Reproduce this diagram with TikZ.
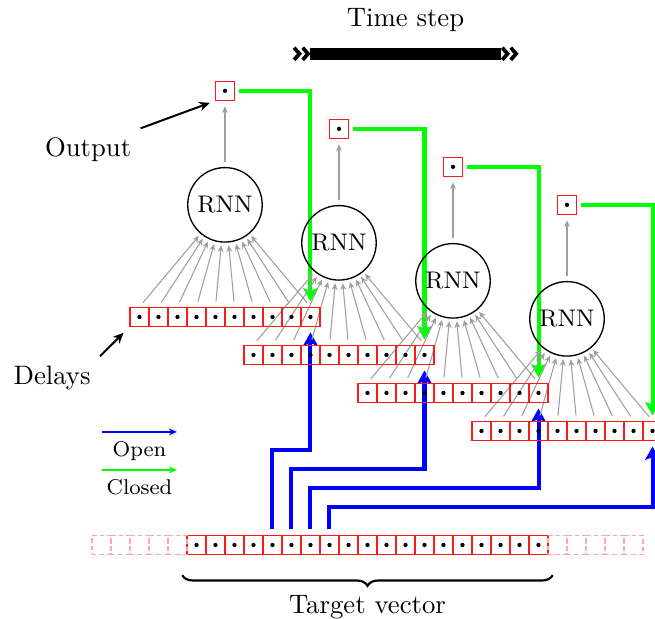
\documentclass[tikz,border=0pt]{standalone}
\usetikzlibrary{arrows.meta,decorations.pathreplacing,backgrounds}

\tikzset{
  cell/.style={draw=red!90, line width=0.5pt, minimum size=0.25cm, inner sep=0pt,
    path picture={\fill[black] (path picture bounding box.center) circle (0.8pt);}},
  ghostcell/.style={draw=red!35, line width=0.5pt, dash pattern=on 1.6pt off 1.2pt,
    minimum size=0.25cm, inner sep=0pt},
  rnn/.style={circle, draw, line width=0.5pt, minimum size=0.98cm, inner sep=0pt, font=\small},
  feed/.style={gray!75, line width=0.4pt, -{Stealth[length=2.5pt,width=2.2pt]},
    shorten <=2pt, shorten >=1pt},
  openline/.style={blue, line width=1.5pt, -{Stealth[length=5pt,width=5.5pt,inset=1pt]},
    shorten <=2pt, shorten >=2pt},
  closedline/.style={green, line width=1.5pt, -{Stealth[length=5pt,width=5.5pt,inset=1pt]},
    shorten <=1.5pt, shorten >=2pt},
  pointer/.style={line width=0.75pt, -{Stealth[length=4pt,width=3.5pt]}},
  chevron/.style={line width=1.4pt, miter limit=3},
}

\begin{document}
\begin{tikzpicture}[x=0.25cm, y=0.25cm, line join=miter]
\useasboundingbox (-9.84,-3.89) rectangle (24.63,28.68);

% target vector with padding
\foreach \i in {1,...,19}
  \node[cell] (tv\i) at (\i-0.5,0) {};
\foreach \i in {1,...,5} {
  \node[ghostcell] (padl\i) at (0.5-\i,0) {};
  \node[ghostcell] (padr\i) at (18.5+\i,0) {};
}
\draw[decorate, decoration={brace, mirror, amplitude=4pt}, line width=0.8pt]
  ([xshift=-1.5pt,yshift=-7.5pt]tv1.south west) -- ([xshift=1.5pt,yshift=-7.5pt]tv19.south east)
  node[midway, below=4pt] (tvlbl) {Target vector};

% one block per time step
\foreach \k in {0,...,3} {
  \pgfmathsetmacro\xo{6*\k-3}
  \pgfmathsetmacro\yo{12-2*\k}
  \foreach \i in {1,...,10}
    \node[cell] (d\k-\i) at (\xo+\i-0.5,\yo) {};
  \node[rnn] (rnn\k) at (\xo+5,\yo+5.9) {RNN};
  \node[cell] (out\k) at (\xo+5,\yo+11.9) {};
}

\begin{pgfonlayer}{background}
\foreach \k/\t in {0/5,1/6,2/7,3/8} {
  \foreach \i in {1,...,10}
    \draw[feed] (d\k-\i.north) -- (rnn\k);
  \draw[feed, shorten >=2pt] (rnn\k) -- (out\k);
  \draw[closedline] (out\k.east) -| (d\k-10.north);
  \coordinate (turn\k) at (6.5+6*\k,5-\k);
  \draw[openline] (tv\t.north) |- (turn\k) -- (d\k-10.south);
}
\end{pgfonlayer}

% labels
\node (outlbl) at (-5.2,20.8) {Output};
\draw[pointer, shorten >=2pt] (outlbl.north east) -- (out0.south west);
\node (dlylbl) at (-7.1,8.8) {Delays};
\draw[pointer, shorten >=3pt] (dlylbl.north east) -- (d0-1.south west);

% legend
\coordinate (lga) at (-4.47,5.95);
\coordinate (lgb) at (-0.53,5.95);
\coordinate (lgc) at (-4.47,3.95);
\coordinate (lgd) at (-0.53,3.95);
\draw[blue, line width=0.6pt, -{Stealth[length=3pt,width=2.6pt]}]
  (lga) -- node[below, text=black, font=\footnotesize] (lgopen) {Open} (lgb);
\draw[green, line width=0.6pt, -{Stealth[length=3pt,width=2.6pt]}]
  (lgc) -- node[below, text=black, font=\footnotesize] (lgclosed) {Closed} (lgd);

% time step
\coordinate (tsa) at (6.45,25.85);
\coordinate (tsb) at (16.5,25.85);
\draw[line width=4.5pt] (tsa) -- (tsb);
\foreach \x in {6.0,6.45,16.95,17.4}
  \draw[chevron] (\x-0.36,26.17) -- (\x-0.08,25.85) -- (\x-0.36,25.53);
\node (tslbl) at (11.5,27.6) {Time step};
\end{tikzpicture}
\end{document}
